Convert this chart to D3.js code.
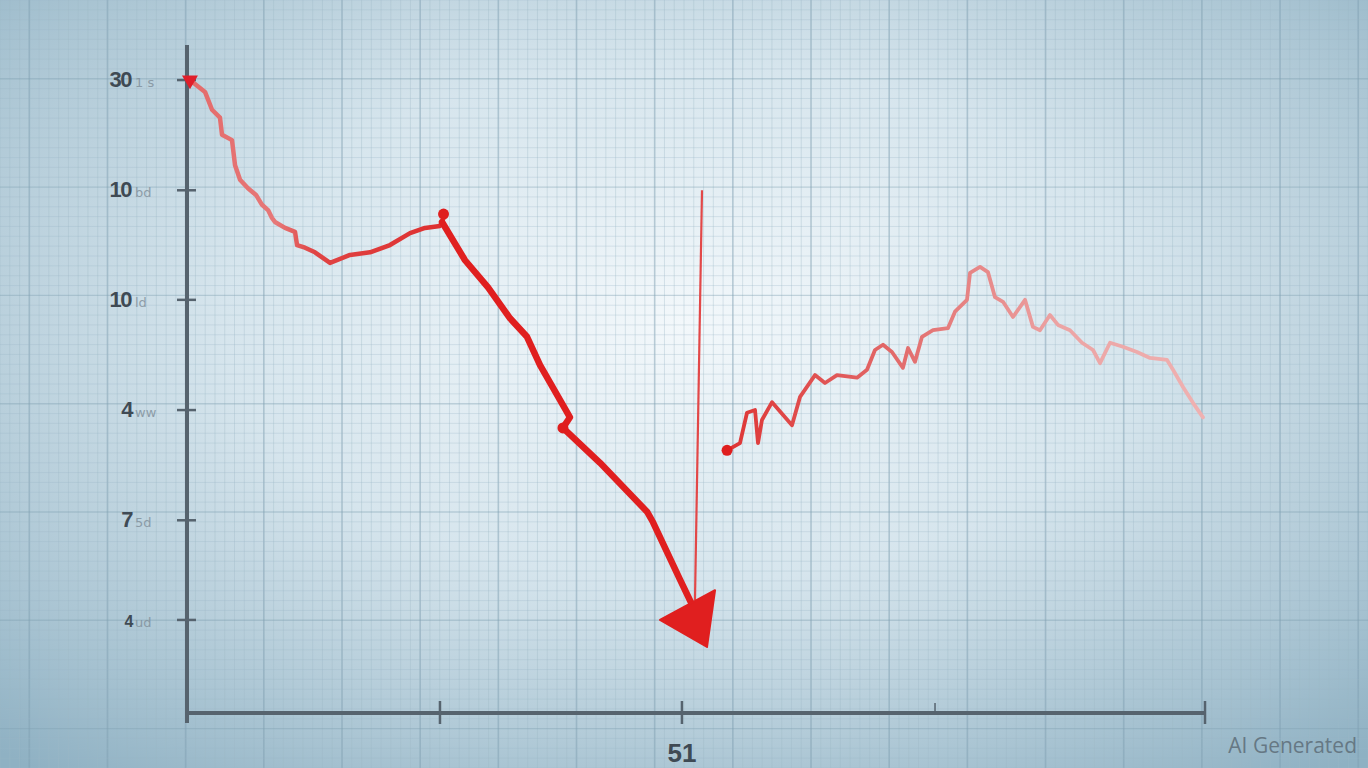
<!DOCTYPE html>
<html><head><meta charset="utf-8">
<script src="https://cdn.jsdelivr.net/npm/d3@7"></script>
<style>html,body{margin:0;padding:0;overflow:hidden;background:#b7cdd8}</style>
</head><body>
<svg id="c" width="1368" height="768"></svg>
<script>
// ---- data ----
const yTickValues = [95.9, 79.2, 62.6, 45.9, 29.2, 14.1];
const yTickLabels = ["30", "10", "10", "4", "7", "4"];
const yTickNotes  = ["1 s", "bd", "ld", "ww", "5d", "ud"];
const xTickValues = [24.85, 48.62, 73.48, 100];
const xTickLabels = ["", "51", "", ""];

const seriesAx = [0.29,1.77,2.46,3.24,3.44,4.42,4.72,5.21,5.99,6.78,7.37,7.96,8.35,8.64,9.63,10.61,10.81,11.59,12.57,14.05,16.01,17.98,19.94,21.91,23.38,24.85,25.15];
const seriesAy = [95.9,94.1,91.4,90.2,87.6,86.8,83.0,80.8,79.5,78.5,77.0,76.2,75.0,74.4,73.5,72.9,70.9,70.5,69.8,68.2,69.4,69.8,70.9,72.7,73.5,73.8,74.8];

const seriesBx = [25.05,27.31,29.57,31.73,33.40,34.68,37.62,36.93,40.57,45.19,45.78,48.43,49.71,50.6];
const seriesBy = [74.4,68.6,64.5,59.8,57.0,52.7,44.8,43.2,37.9,30.5,28.9,20.2,16.1,13.0];

const arrowX = [46.46, 51.87, 51.08];
const arrowY = [14.1, 18.6, 10.0];

const pointerX = [50.59, 49.9];
const pointerY = [79.2, 17.1];

const seriesCx = [53.05,54.32,55.01,55.80,56.09,56.48,57.47,59.43,60.22,61.69,62.67,63.85,65.82,66.80,67.58,68.37,69.25,70.33,70.83,71.51,72.20,73.28,74.75,75.44,76.62,76.92,77.90,78.68,79.37,80.16,81.14,82.32,83.10,83.79,84.77,85.56,86.74,87.92,89.00,89.69,90.67,91.94,93.32,94.60,96.27,96.86,97.84,98.82,99.80];
const seriesCy = [39.8,40.9,45.5,45.9,40.9,44.4,47.1,43.6,47.9,51.2,50.0,51.2,50.8,52.0,55.0,55.8,54.7,52.3,55.3,53.2,57.0,58.0,58.3,60.8,62.6,66.7,67.6,66.8,63.0,62.3,60.0,62.6,58.5,58.0,60.3,58.8,58.0,56.1,55.0,53.0,56.1,55.5,54.7,53.8,53.5,52.0,49.4,47.0,44.8];

const markerX = [25.2, 36.93, 53.05];
const markerY = [75.6, 43.2, 39.8];

// ---- layout ----
const W = 1368, H = 768;
const svg = d3.select("#c");
const x = d3.scaleLinear().domain([0, 100]).range([187, 1205]);
const y = d3.scaleLinear().domain([0, 100]).range([713, 53]);

const defs = svg.append("defs");
const bg = defs.append("radialGradient").attr("id","bg")
  .attr("cx","0.5").attr("cy","0.42").attr("r","0.75");
bg.append("stop").attr("offset","0").attr("stop-color","#f3f8fb");
bg.append("stop").attr("offset","0.45").attr("stop-color","#d6e5ed");
bg.append("stop").attr("offset","1").attr("stop-color","#8fb1c3");
svg.append("rect").attr("width",W).attr("height",H).attr("fill","url(#bg)");

// grid
const gx = d3.scaleLinear().domain([0, 140]).range([0, W]);
const gy = d3.scaleLinear().domain([0, 78]).range([0, H]);
const grid = svg.append("g");
grid.selectAll("line.vx").data(gx.ticks(140)).join("line")
  .attr("x1", d=>gx(d)).attr("x2", d=>gx(d)).attr("y1",0).attr("y2",H)
  .attr("stroke", d => d % 8 === 3 ? "#7f9fb2" : "#9db7c6")
  .attr("stroke-opacity", d => d % 8 === 3 ? 0.5 : 0.35)
  .attr("stroke-width", d => d % 8 === 3 ? 1.6 : 1);
grid.selectAll("line.hy").data(gy.ticks(78)).join("line")
  .attr("y1", d=>gy(d)).attr("y2", d=>gy(d)).attr("x1",0).attr("x2",W)
  .attr("stroke", d => d % 11 === 8 ? "#7f9fb2" : "#9db7c6")
  .attr("stroke-opacity", d => d % 11 === 8 ? 0.4 : 0.3)
  .attr("stroke-width", d => d % 11 === 8 ? 1.4 : 1);

// axes
const axisColor = "#56636e";
svg.append("line").attr("x1", x(0)).attr("x2", x(0)).attr("y1", 45).attr("y2", y(-1.5))
  .attr("stroke", axisColor).attr("stroke-width", 4);
svg.append("line").attr("x1", x(0)).attr("x2", x(100)).attr("y1", y(0)).attr("y2", y(0))
  .attr("stroke", axisColor).attr("stroke-width", 4);

const yt = svg.append("g");
yt.selectAll("line").data(yTickValues).join("line")
  .attr("x1", x(0)-10).attr("x2", x(0)+9)
  .attr("y1", d=>y(d)).attr("y2", d=>y(d))
  .attr("stroke", axisColor).attr("stroke-width", 2.5);
yt.selectAll("text.lab").data(yTickValues).join("text").attr("class","lab")
  .attr("x", (d,i)=> i<3 ? 131 : 132)
  .attr("y", d=>y(d)+7).attr("text-anchor","end")
  .attr("font-family","Liberation Sans, Arial, sans-serif")
  .attr("font-weight","bold").attr("font-size", (d,i)=> i===5 ? 16 : 22)
  .attr("fill","#3f4a54").attr("letter-spacing","-1.5")
  .text((d,i)=>yTickLabels[i]);
yt.selectAll("text.note").data(yTickValues).join("text").attr("class","note")
  .attr("x", 135).attr("y", d=>y(d)+7)
  .attr("font-family","DejaVu Sans, sans-serif").attr("font-size", 13)
  .attr("fill","#7f8e99").attr("opacity",0.8)
  .text((d,i)=>yTickNotes[i]);

const xt = svg.append("g");
xt.selectAll("line").data(xTickValues).join("line")
  .attr("x1", d=>x(d)).attr("x2", d=>x(d))
  .attr("y1", (d,i)=> y(0) - (i===2 ? 10 : 12)).attr("y2", (d,i)=> y(0) + (i===2 ? 0 : 11))
  .attr("stroke", axisColor).attr("stroke-width", (d,i)=> i===2 ? 1.5 : 2.5);
xt.selectAll("text").data(xTickValues).join("text")
  .attr("x", d=>x(d)).attr("y", 762).attr("text-anchor","middle")
  .attr("font-family","Liberation Sans, Arial, sans-serif").attr("font-weight","bold")
  .attr("font-size", 26).attr("fill","#3f4a54")
  .text((d,i)=>xTickLabels[i]);

// gradients for lines
function lg(id, x1, x2, stops){
  const g = defs.append("linearGradient").attr("id", id).attr("gradientUnits","userSpaceOnUse")
    .attr("x1", x1).attr("x2", x2).attr("y1",0).attr("y2",0);
  stops.forEach(s=>g.append("stop").attr("offset",s[0]).attr("stop-color",s[1]));
}
lg("gA", x(0), x(25), [[0,"#e46a6a"],[0.35,"#e67878"],[0.5,"#e04444"],[1,"#de3030"]]);
lg("gC", x(53), x(100), [[0,"#de3535"],[0.35,"#e26a6a"],[0.7,"#eca4a4"],[1,"#efb1b1"]]);

const line = d3.line().x(d=>x(d[0])).y(d=>y(d[1])).curve(d3.curveLinear);
const ptsA = seriesAx.map((v,i)=>[v, seriesAy[i]]);
const ptsB = seriesBx.map((v,i)=>[v, seriesBy[i]]);
const ptsC = seriesCx.map((v,i)=>[v, seriesCy[i]]);

svg.append("path").attr("d", line(ptsA)).attr("fill","none")
  .attr("stroke","url(#gA)").attr("stroke-width",4.5)
  .attr("stroke-linejoin","round").attr("stroke-linecap","round");

// pointer thin line
svg.append("path").attr("d", line(pointerX.map((v,i)=>[v,pointerY[i]]))).attr("fill","none")
  .attr("stroke","#e24848").attr("stroke-width",2.2);

svg.append("path").attr("d", line(ptsB)).attr("fill","none")
  .attr("stroke","#e01f1f").attr("stroke-width",6.5)
  .attr("stroke-linejoin","round").attr("stroke-linecap","round");

svg.append("path").attr("d", line(arrowX.map((v,i)=>[v,arrowY[i]])) + "Z")
  .attr("fill","#e01f1f").attr("stroke","#e01f1f").attr("stroke-width",2).attr("stroke-linejoin","round");

svg.append("path").attr("d", line(ptsC)).attr("fill","none")
  .attr("stroke","url(#gC)").attr("stroke-width",3.8)
  .attr("stroke-linejoin","round").attr("stroke-linecap","round");

// markers
svg.selectAll("circle.m").data(markerX).join("circle").attr("class","m")
  .attr("cx", d=>x(d)).attr("cy",(d,i)=>y(markerY[i])).attr("r", 5.5)
  .attr("fill","#df1e1e");
svg.append("path").attr("d", d3.symbol().type(d3.symbolTriangle).size(110))
  .attr("transform", `translate(${x(seriesAx[0])},${y(seriesAy[0])}) rotate(180)`)
  .attr("fill","#e01e2a");

// watermark
svg.append("text").attr("x", 1357).attr("y", 753).attr("text-anchor","end")
  .attr("font-family","Open Sans, DejaVu Sans, sans-serif").attr("font-size", 21)
  .attr("fill","#667884").text("AI Generated");
</script>
</body></html>
